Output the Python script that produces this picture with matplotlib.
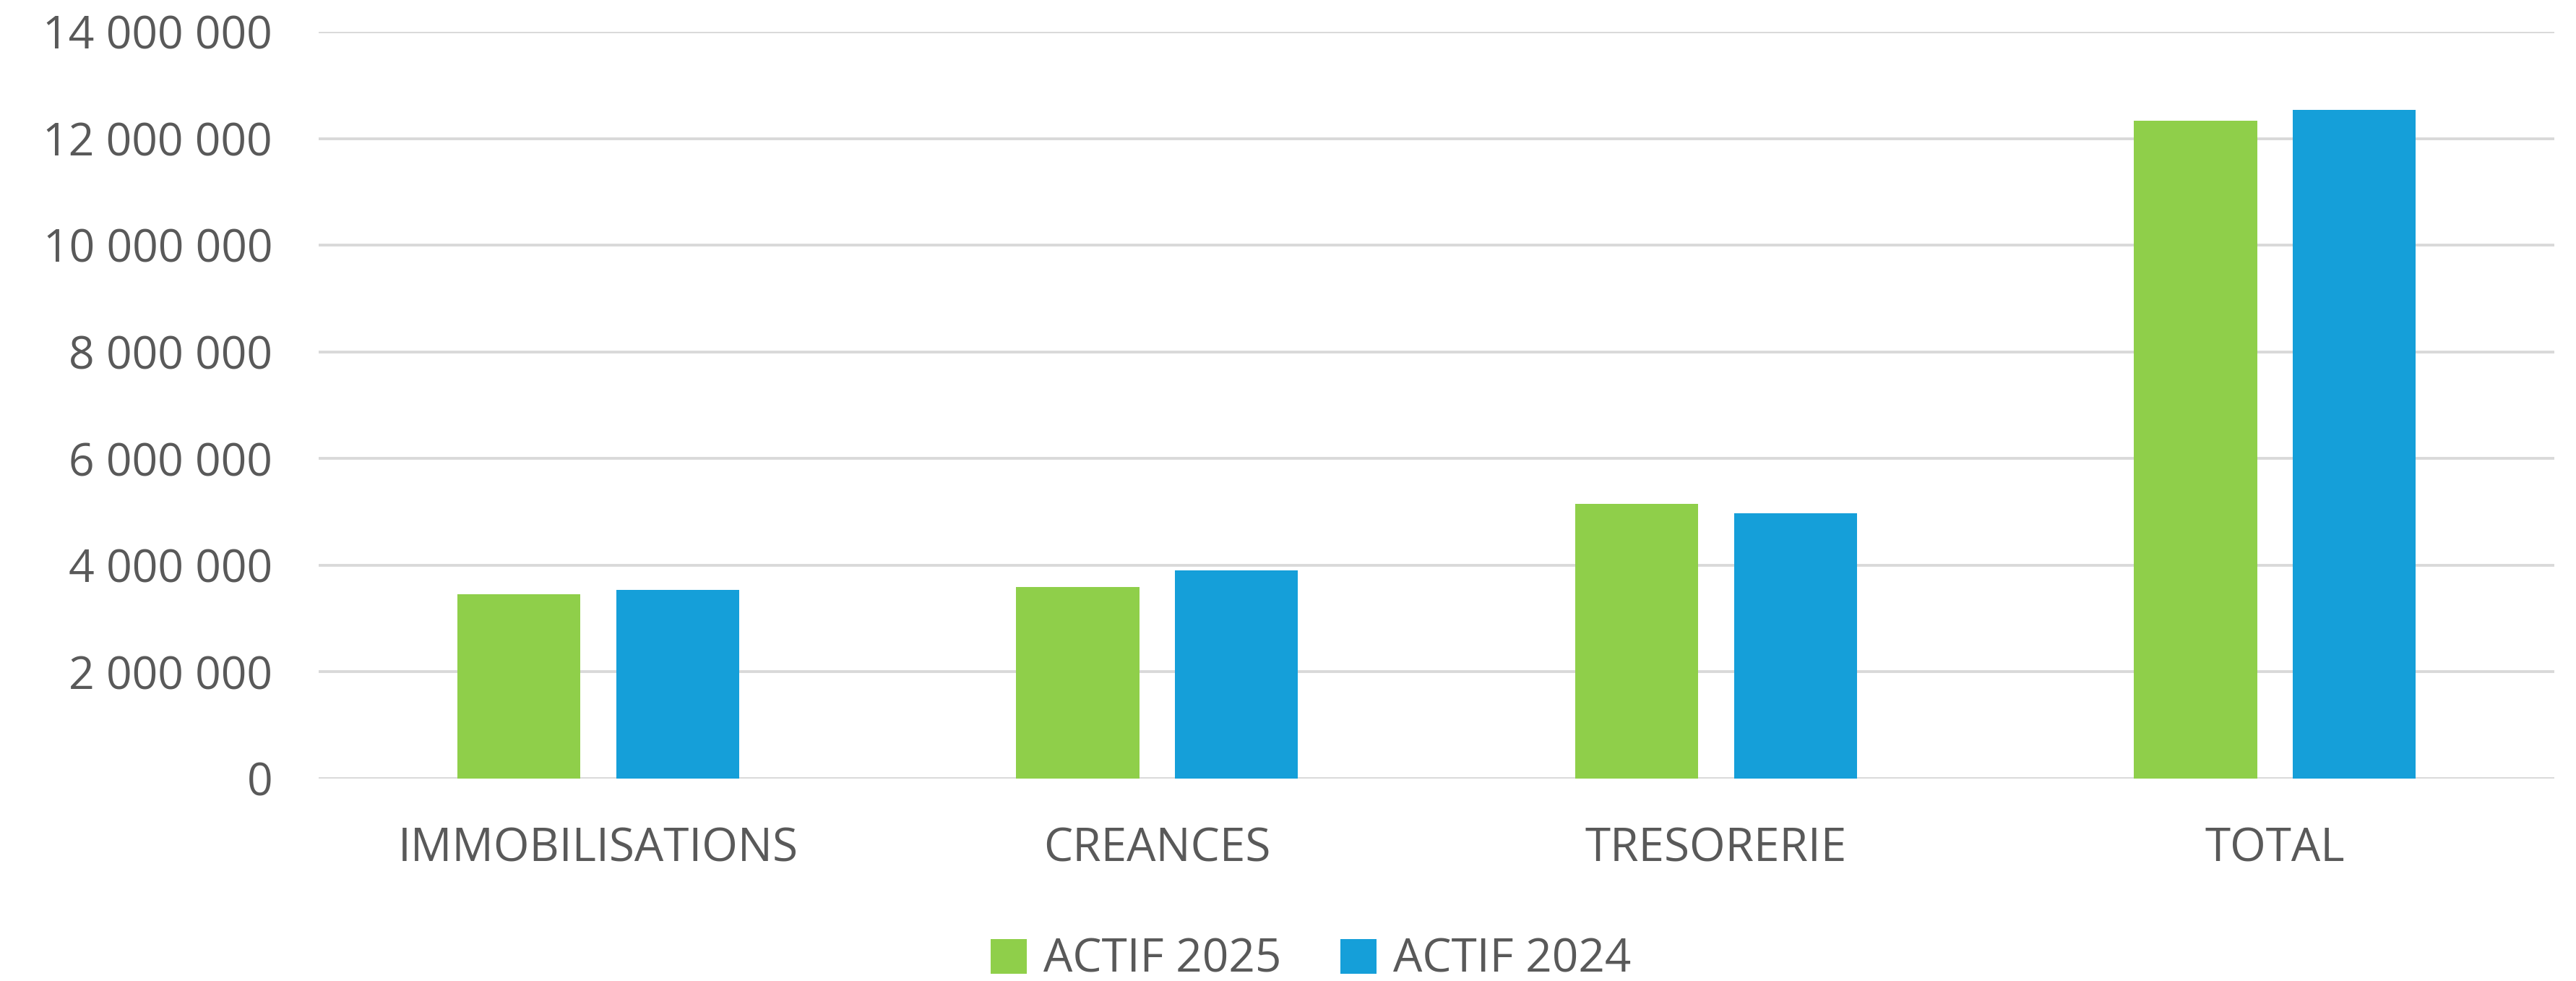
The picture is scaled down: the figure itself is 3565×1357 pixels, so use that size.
import numpy as np
import matplotlib.pyplot as plt
from matplotlib.ticker import FuncFormatter

categories = ['IMMOBILISATIONS', 'CREANCES', 'TRESORERIE', 'TOTAL']
actif_2025 = [3460000, 3590000, 5150000, 12330000]
actif_2024 = [3540000, 3900000, 4970000, 12540000]
yticks = np.arange(0, 14000001, 2000000)

green = '#8fcf4a'
blue = '#159fd9'
txt = '#595959'

plt.rcParams['font.family'] = ['Open Sans', 'DejaVu Sans']

fig = plt.figure(figsize=(35.65, 13.57), dpi=100)
ax = fig.add_axes([0.1237, 0.2063, 0.8679, 0.7613])

x = np.arange(len(categories))
w = 0.22
off = 0.142
ax.bar(x - off, actif_2025, w, color=green, label='ACTIF 2025', zorder=3)
ax.bar(x + off, actif_2024, w, color=blue, label='ACTIF 2024', zorder=3)

ax.set_xlim(-0.5, len(categories) - 0.5)
ax.set_ylim(0, 14000000)
ax.set_yticks(yticks)
ax.yaxis.set_major_formatter(FuncFormatter(lambda v, p: '{:,.0f}'.format(v).replace(',', ' ')))
ax.set_xticks(x)
ax.set_xticklabels(categories)

ax.grid(axis='y', color='#d9d9d9', linewidth=2.8, zorder=0)
for s in ax.spines.values():
    s.set_visible(False)
ax.tick_params(axis='y', length=0, pad=46, labelsize=45, labelcolor=txt)
ax.tick_params(axis='x', length=0, pad=47, labelsize=46, labelcolor=txt)

fig.legend(loc='center', bbox_to_anchor=(0.509, 0.0214), ncol=2, frameon=False,
           fontsize=46, labelcolor=txt, handlelength=0.78, handleheight=0.78,
           handletextpad=0.36, columnspacing=1.28)

fig.savefig('out.png', dpi=100)
